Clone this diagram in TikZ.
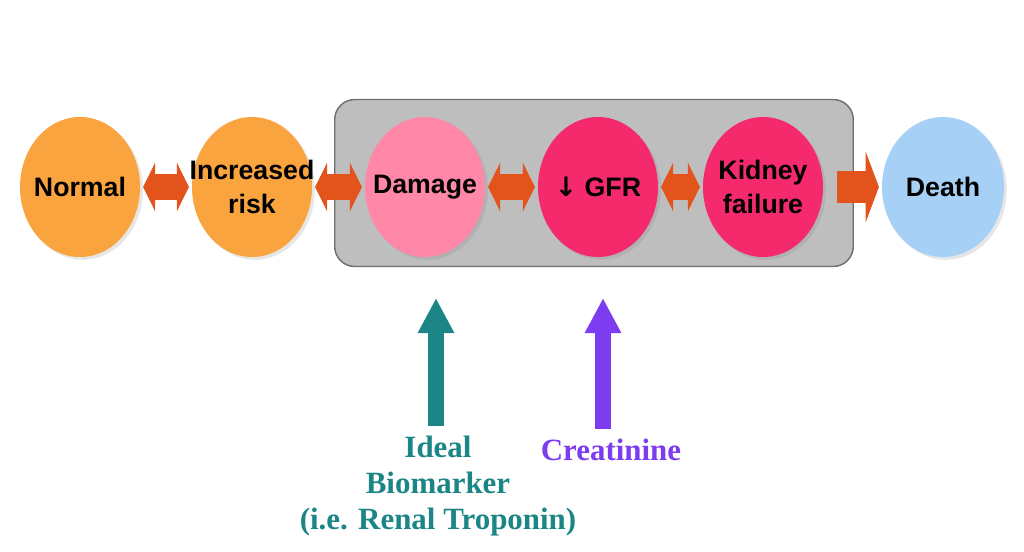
\documentclass[tikz,border=0pt]{standalone}
\usepackage{fontspec}
\setmainfont{Liberation Serif}
\setsansfont{Liberation Sans}
\newfontfamily\arrowfont{DejaVu Sans}
\usepackage{tikz}
\usetikzlibrary {arrows.meta, shapes.geometric, positioning, fit, backgrounds, shadows}
\definecolor{orangeA}{HTML}{F9A43F}
\definecolor{pinkA}{HTML}{FF88A8}
\definecolor{pinkB}{HTML}{F42A6C}
\definecolor{blueA}{HTML}{A6D0F5}
\definecolor{arrowA}{HTML}{E2541C}
\definecolor{tealA}{HTML}{1C8585}
\definecolor{purpleA}{HTML}{7D3CF0}
\definecolor{panelA}{HTML}{BEBEBE}
\definecolor{panelB}{HTML}{6E6E6E}

\begin{document}
\begin{tikzpicture}[node distance=4.3cm,on grid,
      stage/.style={ellipse, minimum width=3cm, minimum height=3.5cm, inner sep=-16pt,
        align=center, font=\sffamily\bfseries\fontsize{19}{24}\selectfont,
        drop shadow={opacity=0.2, shadow xshift=2pt, shadow yshift=-2pt}},
      panel/.style={draw=panelB, line width=1pt, fill=panelA, rounded corners=0.5cm,
        inner xsep=0.75cm, inner ysep=0.33cm, yshift=0.1cm},
      link/.style={draw=arrowA, line width=0.65cm, shorten >=2pt, shorten <=2pt,
        {Triangle[length=0.3cm,width=1.2cm]}-{Triangle[length=0.3cm,width=1.2cm]}},
      marker/.style={line width=0.4cm, -{Triangle[length=0.875cm,width=0.85cm]}},
      markertext/.style={align=center, inner sep=0pt,
        font=\rmfamily\bfseries\fontsize{22}{25.5}\selectfont}]
      \useasboundingbox (0,0) rectangle (25.6,-13.8);
      \node[stage, fill=orangeA] (normal) at (2,-4.675) {Normal};
      \node[stage, fill=orangeA] (risk) [right=of normal] {Increased\\risk};
      \node[stage, fill=pinkA] (damage) [right=4.325cm of risk] {Damage};
      \node[stage, fill=pinkB] (gfr) [right=4.325cm of damage] {{\arrowfont\bfseries ↓}~GFR};
      \node[stage, fill=pinkB] (kidney) [right=4.125cm of gfr] {Kidney\\failure};
      \node[stage, fill=blueA, minimum width=3.05cm] (death) [right=4.5cm of kidney] {Death};
      \begin{scope}[on background layer]
        \node[panel, fit=(damage) (kidney)] (stages) {};
      \end{scope}
      \path[link] (normal) -- (risk);
      \path[link] (risk) -- (damage);
      \path[link] (damage) -- (gfr);
      \path[link] (gfr) -- (kidney);
      \path[draw=arrowA, line width=0.78cm, shorten <=0.35cm, shorten >=2pt,
        -{Triangle[length=0.33cm,width=1.75cm]}] (kidney) -- (death);
      % markers below the panel
      \node[markertext, text=tealA] (ideal) at (10.95,-12.15) {Ideal\\Biomarker\\(i.e. Renal Troponin)};
      \node[markertext, text=purpleA] (creat) at (15.275,-11.25) {Creatinine};
      \coordinate (ideal tip) at (10.9,-7.45);
      \coordinate (creat tip) at (15.075,-7.45);
      \draw[marker, tealA, shorten <=0.25cm] (ideal tip |- ideal.north) -- (ideal tip);
      \draw[marker, purpleA, shorten <=0.25cm] (creat tip |- creat.north) -- (creat tip);
    \end{tikzpicture}
\end{document}
